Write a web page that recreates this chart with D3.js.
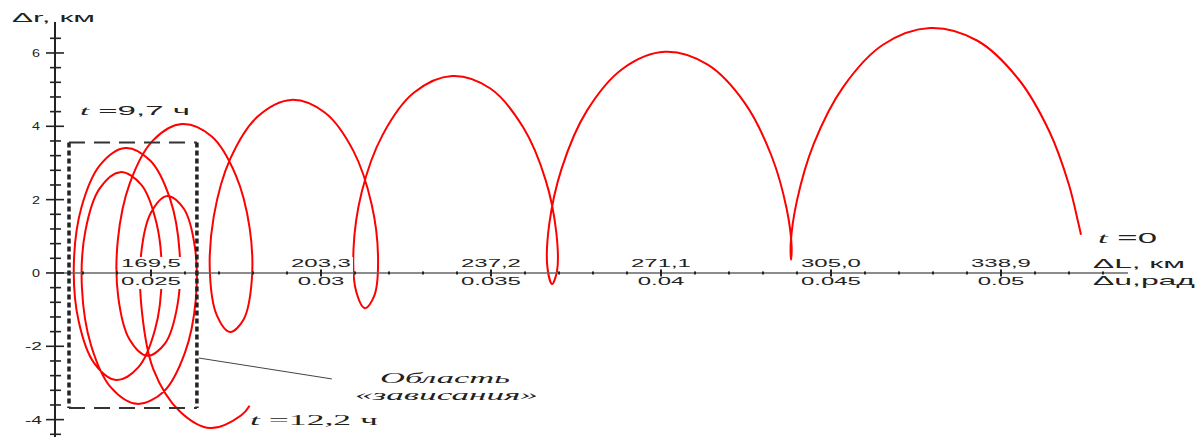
<!DOCTYPE html>
<html>
<head>
<meta charset="utf-8">
<script src="https://cdn.jsdelivr.net/npm/d3@7"></script>
<style>
  body { margin: 0; background: #fff; }
  svg { display: block; }
</style>
</head>
<body>
<svg id="chart" width="1203" height="437"></svg>
<script>
// trajectory, from t = 0 (right) to t = 12,2 h (left)
// along-track dL, km
var trajL = [354.85, 354.32, 352.46, 348.57, 342.36, 334.12, 324.75, 315.45, 307.43, 301.57,
  298.20, 296.98, 297.04, 297.17, 296.17, 293.16, 287.80, 280.43, 271.92, 263.49,
  256.33, 251.34, 248.82, 248.47, 249.40, 250.39, 250.26, 248.11, 243.61, 237.10,
  229.47, 221.89, 215.60, 211.46, 209.82, 210.34, 212.12, 213.99, 214.71, 213.42,
  209.79, 204.15, 197.38, 190.66, 185.24, 181.97, 181.19, 182.56, 185.21, 187.94,
  189.53, 189.11, 186.34, 181.56, 175.64, 169.81, 165.23, 162.84, 162.92, 165.15,
  168.68, 172.26, 174.73, 175.15, 173.25, 169.33, 164.29, 159.32, 155.60, 154.07,
  155.02, 158.12, 162.51, 166.95, 170.28, 171.58, 170.54, 167.49, 163.30, 159.19,
  156.36, 155.68, 157.49, 161.45, 166.69, 172.02, 176.20, 178.37, 178.19, 176.00,
  172.69, 169.43, 167.46, 167.65, 169.90, 175.16, 181.26, 187.45, 189.10];
// radial dr, km
var trajR = [1.04, 1.36, 2.40, 3.85, 5.29, 6.34, 6.68, 6.23, 5.07, 3.52,
  1.96, 0.81, 0.36, 0.70, 1.75, 3.19, 4.64, 5.68, 6.03, 5.57,
  4.42, 2.86, 1.31, 0.16, -0.30, 0.05, 1.09, 2.54, 3.98, 5.03,
  5.37, 4.92, 3.76, 2.21, 0.65, -0.50, -0.96, -0.61, 0.44, 1.88,
  3.33, 4.37, 4.72, 4.26, 3.11, 1.55, 0.00, -1.15, -1.61, -1.26,
  -0.22, 1.23, 2.67, 3.72, 4.06, 3.61, 2.45, 0.90, -0.66, -1.81,
  -2.26, -1.92, -0.87, 0.57, 2.02, 3.06, 3.41, 2.95, 1.80, 0.25,
  -1.31, -2.46, -2.92, -2.57, -1.53, -0.08, 1.36, 2.41, 2.75, 2.30,
  1.14, -0.41, -1.97, -3.12, -3.57, -3.23, -2.18, -0.74, 0.71, 1.75,
  2.10, 1.64, 0.49, -1.07, -2.62, -3.77, -4.23, -3.88, -3.62];

var radTicks = [0.025, 0.03, 0.035, 0.04, 0.045, 0.05];
var radLabels = ["0.025", "0.03", "0.035", "0.04", "0.045", "0.05"];
var kmLabels = ["169,5", "203,3", "237,2", "271,1", "305,0", "338,9"];
var rTicks = [-4, -2, 0, 2, 4, 6];
var R_ORBIT = 6778; // km, ties du (rad) to dL (km)

// "hover" region box and the pointer to its caption, in km
var hoverL = [153.1, 178.6];
var hoverR = [-3.68, 3.56];
var pointer = [[179.0, -2.32], [205.5, -2.89]];

var svg = d3.select("#chart");
var x = d3.scaleLinear().domain([150.31, 364.22]).range([55, 1128]);
var y = d3.scaleLinear().domain([-4.4, 6.4]).range([434.3, 38.3]);
var y0 = y(0), x0 = x.range()[0];

var traj = trajL.map(function(d, i) { return [d, trajR[i]]; });

svg.append("path")
  .datum(traj)
  .attr("fill", "none")
  .attr("stroke", "#ff0000")
  .attr("stroke-width", 2)
  .attr("stroke-linejoin", "round")
  .attr("d", d3.line()
    .x(function(d) { return x(d[0]); })
    .y(function(d) { return y(d[1]); })
    .curve(d3.curveCatmullRom.alpha(0.5)));

// tick labels sit on white boxes that hide the curve
svg.selectAll("rect.lblbg").data(radTicks).enter().append("rect")
  .attr("x", function(d) { return x(d * R_ORBIT) - 32; })
  .attr("y", y0 - 16)
  .attr("width", 64)
  .attr("height", 32)
  .attr("fill", "#fff");

// stretched text helper: places text so it spans the given width
function stretch(str, left, base, width, size, family, italic) {
  var g = svg.append("g");
  var t = g.append("text")
    .attr("font-family", family || "Liberation Sans, Arial, sans-serif")
    .attr("font-size", size)
    .attr("fill", "#222");
  if (typeof str === "string") {
    t.text(str);
    if (italic) t.attr("font-style", "italic");
  } else {
    str.forEach(function(p) {
      var s = t.append("tspan").text(p.text);
      if (p.italic) s.attr("font-style", "italic").attr("font-family", "Liberation Serif, serif");
    });
  }
  var w = t.node().getComputedTextLength();
  g.attr("transform", "translate(" + left + "," + base + ") scale(" + (width / w) + ",1)");
  return g;
}

// x axis
svg.append("line")
  .attr("x1", x0).attr("x2", 1128)
  .attr("y1", y0).attr("y2", y0)
  .attr("stroke", "#666").attr("stroke-width", 1.6);

d3.range(23, 54).forEach(function(i) {
  var px = x(i / 1000 * R_ORBIT);
  var h = i % 5 === 0 ? 3.5 : 1.5;
  svg.append("line")
    .attr("x1", px).attr("x2", px)
    .attr("y1", y0 - h).attr("y2", y0 + h)
    .attr("stroke", "#222").attr("stroke-width", 2);
});

radTicks.forEach(function(d, i) {
  var px = x(d * R_ORBIT);
  var g1 = stretch(kmLabels[i], 0, 0, 1, 11);
  var w1 = g1.select("text").node().getComputedTextLength() * 2.18;
  g1.remove();
  stretch(kmLabels[i], px - w1 / 2, y0 - 6, w1, 11);
  var g2 = stretch(radLabels[i], 0, 0, 1, 11);
  var w2 = g2.select("text").node().getComputedTextLength() * 2.18;
  g2.remove();
  stretch(radLabels[i], px - w2 / 2, y0 + 12, w2, 11);
});

// y axis
svg.append("line")
  .attr("x1", x0).attr("x2", x0)
  .attr("y1", 22).attr("y2", 437)
  .attr("stroke", "#222").attr("stroke-width", 2);

d3.range(-11, 17).forEach(function(i) {
  var py = y(i * 0.4);
  var major = i % 5 === 0;
  svg.append("line")
    .attr("x1", major ? x0 - 9 : x0 - 5).attr("x2", major ? x0 + 9 : x0 + 6)
    .attr("y1", py).attr("y2", py)
    .attr("stroke", "#222").attr("stroke-width", 1.6);
});

rTicks.forEach(function(d) {
  var s = String(d);
  var w = d < 0 ? 17 : 8;
  var right = d < 0 ? 42 : 40;
  stretch(s, right - w, y(d) + 4, w, 11);
});

stretch("\u0394r, \u043a\u043c", 12, 22, 83, 13);
stretch("\u0394L, \u043a\u043c", 1093, 268, 92, 13);
stretch("\u0394u,\u0440\u0430\u0434", 1093, 285, 102, 13);

// time marks
stretch([{ text: "t", italic: true }, { text: " =9,7 \u0447" }], 80, 115, 110, 13);
stretch([{ text: "t", italic: true }, { text: " =0" }], 1098, 243, 59, 14);
stretch([{ text: "t", italic: true }, { text: " =12,2 \u0447" }], 250, 425, 128, 14, "Liberation Serif, serif");

// hover region box
var bx1 = x(hoverL[0]), bx2 = x(hoverL[1]);
var by1 = y(hoverR[1]), by2 = y(hoverR[0]);
[bx1, bx2].forEach(function(px) {
  svg.append("line")
    .attr("x1", px).attr("x2", px).attr("y1", by1).attr("y2", by2)
    .attr("stroke", "#222").attr("stroke-width", 3.5)
    .attr("stroke-dasharray", "5,3");
});
[by1, by2].forEach(function(py) {
  svg.append("line")
    .attr("x1", bx1).attr("x2", bx2).attr("y1", py).attr("y2", py)
    .attr("stroke", "#333").attr("stroke-width", 2)
    .attr("stroke-dasharray", "16,9");
});

svg.append("line")
  .attr("x1", x(pointer[0][0])).attr("y1", y(pointer[0][1]))
  .attr("x2", x(pointer[1][0])).attr("y2", y(pointer[1][1]))
  .attr("stroke", "#444").attr("stroke-width", 1);

stretch("\u041e\u0431\u043b\u0430\u0441\u0442\u044c", 380, 383, 130, 14, "Liberation Serif, serif", true);
stretch("\u00ab\u0437\u0430\u0432\u0438\u0441\u0430\u043d\u0438\u044f\u00bb", 355, 400, 183, 14, "Liberation Serif, serif", true);
</script>
</body>
</html>
